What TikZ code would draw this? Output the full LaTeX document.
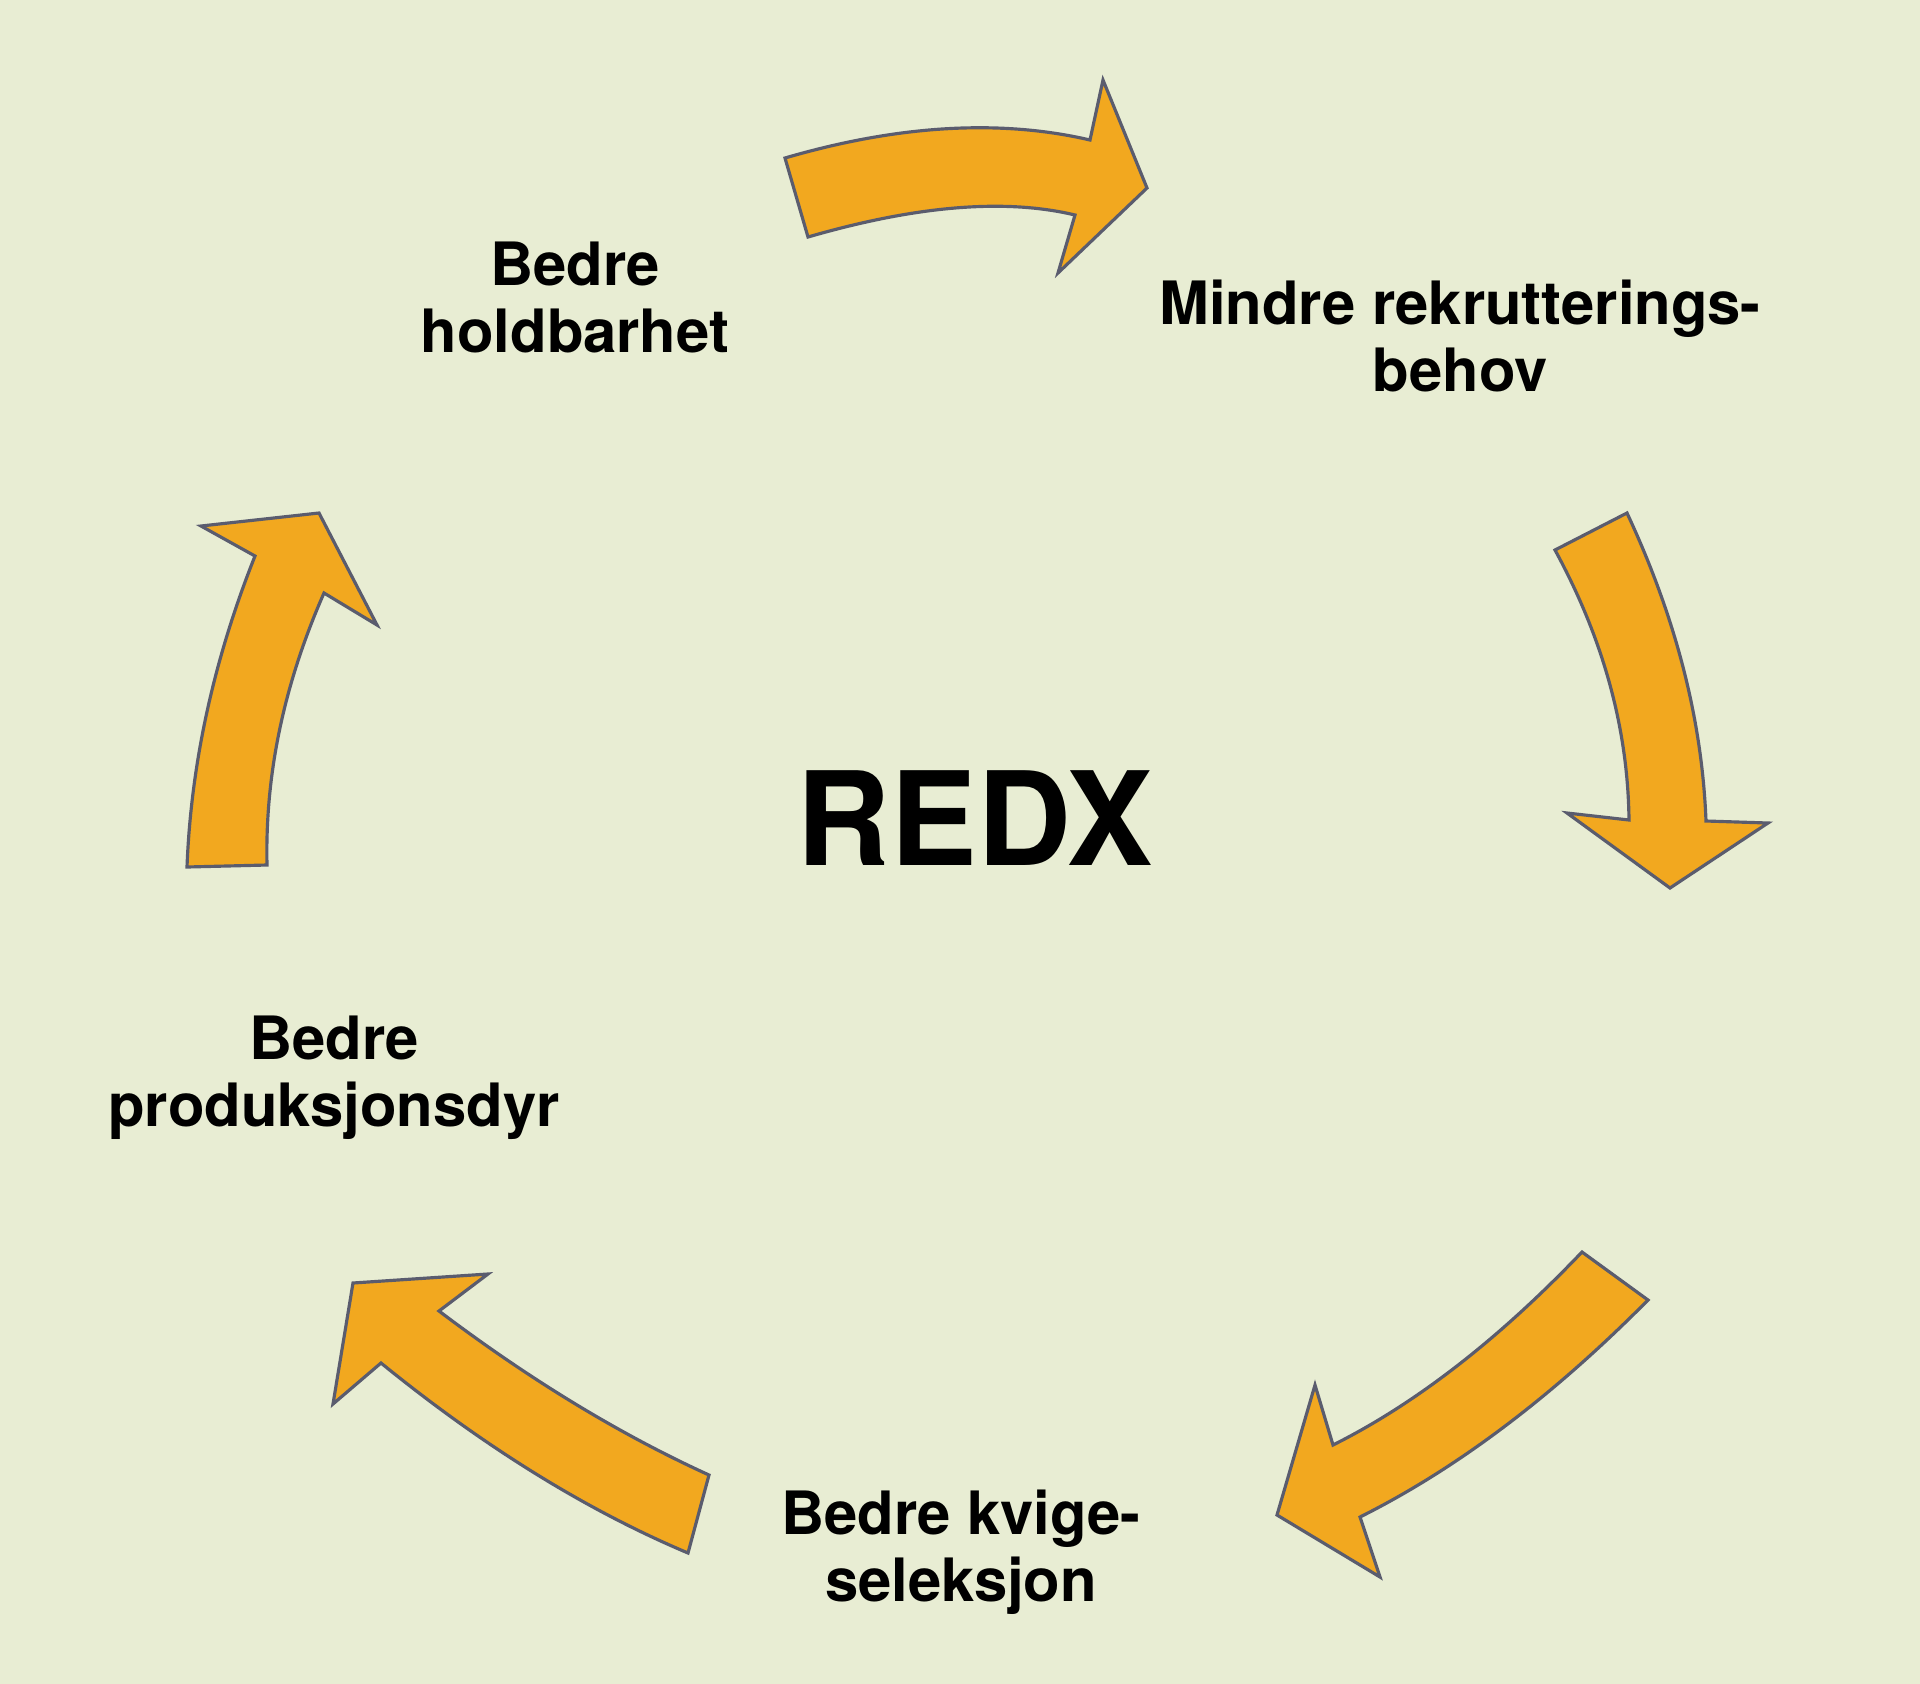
\documentclass[tikz,border=0pt]{standalone}
\usepackage{fontspec}
\setmainfont{TeX Gyre Heros}
\definecolor{bg}{HTML}{E8EDD3}
\definecolor{pilfarge}{HTML}{F2A81F}
\definecolor{kant}{HTML}{5A5C6E}
\tikzset{
  tekst/.style={font=\fontsize{17}{19}\selectfont\bfseries,align=center,anchor=base,inner sep=0pt},
  pil/.style={fill=pilfarge,draw=kant,line width=0.9pt,line join=miter}
}
\begin{document}
\begin{tikzpicture}[x=0.01cm,y=-0.01cm]
      \fill[bg] (0,0) rectangle (1920,1684);
      \useasboundingbox (0,0) rectangle (1920,1684);
      \draw
        (575,352) node[tekst] (hold){Bedre\\holdbarhet}
        (1460,391) node[tekst] (rekrut){Mindre rekrutterings-\\behov}
        (334,1126) node[tekst] (prod){Bedre\\produksjonsdyr}
        (961,1601) node[tekst] (kvige){Bedre kvige-\\seleksjon}
        (975,865) node[tekst,font=\fontsize{37}{40}\selectfont\bfseries] (redx){REDX};
      \begin{scope}[every path/.style={pil}]
        \filldraw (785,158) .. controls (898,125) and (1000,119) .. (1090,140)
          -- (1103,80) -- (1147,188) -- (1058,273) -- (1075,215)
          .. controls (1004,198) and (915,206) .. (808,237) -- cycle;
        \filldraw (1627,513) .. controls (1675,616) and (1702,718) .. (1706,821)
          -- (1768,823) -- (1670,888) -- (1567,813) -- (1629,820)
          .. controls (1628,730) and (1604,640) .. (1555,550) -- cycle;
        \filldraw (1648,1300) .. controls (1552,1397) and (1456,1469) .. (1360,1517)
          -- (1380,1577) -- (1277,1515) -- (1315,1385) -- (1333,1445)
          .. controls (1415,1404) and (1498,1340) .. (1582,1252) -- cycle;
        \filldraw (709,1475) .. controls (619,1434) and (529,1379) .. (439,1311)
          -- (488,1274) -- (353,1283) -- (333,1404) -- (381,1363)
          .. controls (483,1446) and (586,1510) .. (688,1553) -- cycle;
        \filldraw (187,867) .. controls (191,763) and (214,659) .. (255,556)
          -- (201,526) -- (319,513) -- (377,625) -- (324,593)
          .. controls (284,684) and (265,774) .. (267,865) -- cycle;
      \end{scope}
    \end{tikzpicture}
\end{document}
